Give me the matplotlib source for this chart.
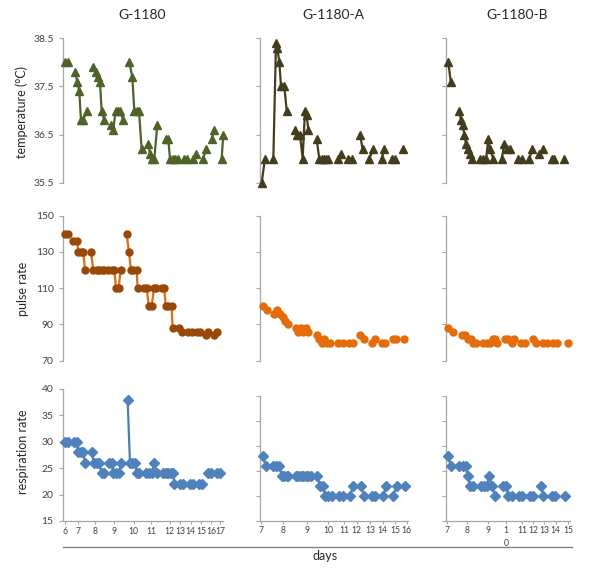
import numpy as np
import matplotlib
matplotlib.use("Agg")
import matplotlib.pyplot as plt
from matplotlib.lines import Line2D

N = None

# ---------------- data ----------------
# x = observation time index (axis units), None = gap between days
g1180_temp_x = [3, 13, N, 33, 40, 46, 51, 58, 68, N, 88, 96, 101, 108, 113, 121, N,
                141, 148, 155, 161, 168, 178, N, 196, 205, 211, 218, 225, 233, N,
                253, 258, 265, 271, 280, N, 305, 313, 318, 326, 333, 343, N, 361, 368, N,
                386, 396, N, 418, 425, N, 443, 451, N, 473, 478]
g1180_temp_y = [38.0, 38.0, N, 37.8, 37.6, 37.4, 36.8, 36.8, 37.0, N, 37.9, 37.8, 37.7, 37.6, 37.0, 36.8, N,
                36.7, 36.6, 37.0, 37.0, 37.0, 36.8, N, 38.0, 37.7, 37.0, 37.0, 37.0, 36.2, N,
                36.3, 36.1, 36.0, 36.0, 36.7, N, 36.4, 36.4, 36.0, 36.0, 36.0, 36.0, N, 36.0, 36.0, N,
                36.0, 36.1, N, 36.0, 36.2, N, 36.4, 36.6, N, 36.0, 36.5]

g1180_pulse_x = [3, 13, N, 28, 40, 43, 50, 58, 63, N, 81, 88, 98, 105, 113, 120, N,
                 133, 143, 151, 156, 164, 170, N, 188, 195, 201, 208, 218, 221, N,
                 240, 248, 255, 263, 270, 276, N, 293, 301, 305, 313, 323, 326, N,
                 345, 353, N, 373, 383, N, 398, 408, N, 425, 433, N, 451, 460]
g1180_pulse_y = [140, 140, N, 136, 136, 130, 130, 130, 120, N, 130, 120, 120, 120, 120, 120, N,
                 120, 120, 120, 110, 110, 120, N, 140, 130, 120, 120, 120, 110, N,
                 110, 110, 100, 100, 110, 110, N, 110, 110, 100, 100, 100, 88, N,
                 88, 86, N, 86, 86, N, 86, 86, N, 84, 86, N, 84, 86]

g1180_resp_x = [3, 13, N, 30, 38, 41, 50, 58, 63, N, 83, 90, 98, 105, 113, 121, N,
                136, 143, 148, 156, 165, 171, N, 191, 198, 205, 213, 218, 226, N,
                246, 255, 263, 271, 278, N, 298, 306, 313, 321, 328, 331, N,
                348, 358, N, 378, 386, N, 406, 413, N, 433, 441, N, 458, 468]
g1180_resp_y = [30, 30, N, 30, 30, 28, 28, 28, 26, N, 28, 26, 26, 26, 24, 24, N,
                26, 26, 24, 24, 24, 26, N, 38, 26, 26, 26, 24, 24, N,
                24, 24, 24, 26, 24, N, 24, 24, 24, 24, 24, 22, N,
                22, 22, N, 22, 22, N, 22, 22, N, 24, 24, N, 24, 24]

a_temp_x = [5, 15, N, 40, 48, 52, 58, 63, 73, 80, N, 105, 112, 120, 128, 135, 140, 145, N,
            170, 178, 185, 192, 198, 205, N, 235, 242, N, 265, 275, N, 300, 308, N,
            328, 340, N, 365, 373, N, 395, 405, N, 430]
a_temp_y = [35.5, 36.0, N, 36.0, 38.4, 38.3, 38.0, 37.5, 37.5, 37.0, N, 36.6, 36.5, 36.5, 36.0, 37.0, 36.9, 36.6, N,
            36.4, 36.0, 36.0, 36.0, 36.0, 36.0, N, 36.0, 36.1, N, 36.0, 36.0, N, 36.5, 36.2, N,
            36.0, 36.2, N, 36.0, 36.2, N, 36.0, 36.0, N, 36.2]

a_pulse_x = [8, 20, N, 43, 52, 60, 68, 75, 83, N, 108, 115, 122, 130, 138, 145, N,
             170, 178, 185, 193, 200, 210, N, 235, 248, N, 268, 280, N, 300, 312, N,
             335, 345, N, 365, 375, N, 398, 408, N, 432]
a_pulse_y = [100, 98, N, 96, 98, 96, 94, 92, 90, N, 88, 86, 88, 86, 88, 86, N,
             84, 82, 80, 82, 80, 80, N, 80, 80, N, 80, 80, N, 84, 82, N,
             80, 82, N, 80, 80, N, 82, 82, N, 82]

a_resp_x = [8, 17, N, 40, 48, 58, 65, 73, 80, 85, N, 108, 115, 122, 130, 137, 145, 152, N,
            172, 180, 190, 195, 203, 215, N, 238, 248, N, 270, 280, N, 302, 312, N,
            335, 345, N, 370, 378, N, 400, 410, N, 435]
a_resp_y = [28, 26, N, 26, 26, 26, 24, 24, 24, 24, N, 24, 24, 24, 24, 24, 24, 24, N,
            24, 22, 22, 20, 20, 20, N, 20, 20, N, 20, 22, N, 22, 20, N,
            20, 20, N, 20, 22, N, 20, 22, N, 22]

b_temp_x = [8, 15, N, 41, 46, 51, 56, 61, 68, 73, 78, N, 103, 113, 121, 128, 133, 143, N,
            168, 176, 183, 193, N, 218, 228, N, 251, 260, N, 281, 291, N, 318, 326, N, 356]
b_temp_y = [38.0, 37.6, N, 37.0, 36.8, 36.7, 36.5, 36.3, 36.2, 36.1, 36.0, N, 36.0, 36.0, 36.0, 36.4, 36.2, 36.0, N,
            36.0, 36.3, 36.2, 36.2, N, 36.0, 36.0, N, 36.0, 36.2, N, 36.1, 36.2, N, 36.0, 36.0, N, 36.0]

b_pulse_x = [8, 23, N, 48, 58, 68, 76, 83, 91, N, 113, 123, 133, 141, 148, 155, N,
             178, 188, 198, 205, N, 225, 238, N, 261, 271, N, 293, 303, N, 323, 333, N, 368]
b_pulse_y = [88, 86, N, 84, 84, 82, 82, 80, 80, N, 80, 80, 80, 82, 82, 80, N,
             82, 82, 80, 82, N, 80, 80, N, 82, 80, N, 80, 80, N, 80, 80, N, 80]

b_resp_x = [8, 15, N, 41, 51, 60, 66, 73, 81, N, 106, 115, 123, 131, 138, 148, N,
            173, 181, 188, 198, N, 220, 230, N, 253, 263, N, 286, 293, N, 318, 328, N, 358]
b_resp_y = [28, 26, N, 26, 26, 26, 24, 22, 22, N, 22, 22, 22, 24, 22, 20, N,
            22, 22, 20, 20, N, 20, 20, N, 20, 20, N, 22, 20, N, 20, 20, N, 20]

titles = ["G-1180", "G-1180-A", "G-1180-B"]
row_labels = ["temperature (\u00b0C)", "pulse rate", "respiration rate"]

temp_ticks = [35.5, 36.5, 37.5, 38.5]
pulse_ticks = [70, 90, 110, 130, 150]
resp_ticks = [15, 20, 25, 30, 35, 40]

g1180_day_pos = [3, 43, 93, 151, 209, 261, 317, 348, 380, 411, 442, 469]
g1180_day_lab = ["6", "7", "8", "9", "10", "11", "12", "13", "14", "15", "16", "17"]
a_day_pos = [2, 68, 142, 205, 252, 290, 330, 368, 405, 440]
a_day_lab = ["7", "8", "9", "10", "11", "12", "13", "14", "15", "16"]
b_day_pos = [3, 63, 128, 181, 230, 263, 296, 330, 368]
b_day_lab = ["7", "8", "9", "1\n0", "11", "12", "13", "14", "15"]

# ---------------- styling ----------------
plt.rcParams['font.family'] = ['Lato', 'DejaVu Sans']
W, H = 600, 568
fig = plt.figure(figsize=(W / 100, H / 100), dpi=100)

spine_c = "#a6a6a6"
tick_txt = "#404040"

col_left = [63.3, 260.0, 445.7]
col_width = [160.0, 148.3, 124.3]
col_xlim = [(-2, 478), (0, 445), (0, 373)]
row_box = [[(38.3, 182.7)] * 3, [(215.7, 360.7)] * 3,
           [(389.0, 521.0), (395.7, 520.7), (395.7, 520.7)]]
row_ylim = [(35.5, 38.5), (70, 150), (15, 40)]
row_ticks = [temp_ticks, pulse_ticks, resp_ticks]
row_ticklab = [["35.5", "36.5", "37.5", "38.5"], None, None]

series = [
    [(g1180_temp_x, g1180_temp_y), (a_temp_x, a_temp_y), (b_temp_x, b_temp_y)],
    [(g1180_pulse_x, g1180_pulse_y), (a_pulse_x, a_pulse_y), (b_pulse_x, b_pulse_y)],
    [(g1180_resp_x, g1180_resp_y), (a_resp_x, a_resp_y), (b_resp_x, b_resp_y)],
]
day_pos = [g1180_day_pos, a_day_pos, b_day_pos]
day_lab = [g1180_day_lab, a_day_lab, b_day_lab]

styles = [
    [dict(marker='^', ms=5.5, color="#4f6228", mfc="#4f6228", mec="#4f6228"),
     dict(marker='^', ms=5.5, color="#433d1c", mfc="#433d1c", mec="#433d1c"),
     dict(marker='^', ms=5.5, color="#433d1c", mfc="#433d1c", mec="#433d1c")],
    [dict(marker='o', ms=5.0, color="#e46c0a", mfc="#984807", mec="#984807"),
     dict(marker='o', ms=5.0, color="#e46c0a", mfc="#e46c0a", mec="#e46c0a"),
     dict(marker='o', ms=5.0, color="#e46c0a", mfc="#e46c0a", mec="#e46c0a")],
    [dict(marker='D', ms=5.0, color="#4a7ebb", mfc="#4f81bd", mec="#4f81bd"),
     dict(marker='D', ms=5.0, color="#4a7ebb", mfc="#4f81bd", mec="#4f81bd"),
     dict(marker='D', ms=5.0, color="#4a7ebb", mfc="#4f81bd", mec="#4f81bd")],
]

for r in range(3):
    for c in range(3):
        top, bot = row_box[r][c]
        ax = fig.add_axes([col_left[c] / W, 1 - bot / H, col_width[c] / W, (bot - top) / H])
        x = np.array(series[r][c][0], dtype=float)
        y = np.array(series[r][c][1], dtype=float)
        ax.plot(x, y, lw=1.6, clip_on=False, zorder=3, **styles[r][c])
        ax.set_xlim(*col_xlim[c])
        ax.set_ylim(*row_ylim[r])
        for s in ["top", "right"]:
            ax.spines[s].set_visible(False)
        ax.spines["left"].set_color(spine_c)
        ax.spines["left"].set_linewidth(0.9)
        ax.set_yticks(row_ticks[r])
        if c == 0:
            if row_ticklab[r]:
                ax.set_yticklabels(row_ticklab[r])
        else:
            ax.set_yticklabels([])
        ax.tick_params(axis='y', direction='out', length=3, width=0.8, color=spine_c,
                       labelsize=7.5, labelcolor=tick_txt, pad=4)
        if r < 2:
            ax.spines["bottom"].set_visible(False)
            ax.set_xticks([])
        else:
            ax.spines["bottom"].set_color(spine_c)
            ax.spines["bottom"].set_linewidth(0.9)
            ax.set_xticks(day_pos[c])
            ax.set_xticklabels(day_lab[c], linespacing=1.6)
            ax.tick_params(axis='x', direction='out', length=2.5, width=0.8, color=spine_c,
                           labelsize=6.2, labelcolor=tick_txt, pad=1.5)
        ax.patch.set_alpha(0)

# titles
title_x = [141.7, 333.7, 516.7]
for t, tx in zip(titles, title_x):
    fig.text(tx / W, 1 - 15 / H, t, ha='center', va='center', fontsize=10, color="#262626")

# row labels
lab_pos = [(21.7, 112), (23.3, 289), (22.7, 452)]
for lab, (lx, ly) in zip(row_labels, lab_pos):
    fig.text(lx / W, 1 - ly / H, lab, rotation=90, ha='center', va='center',
             fontsize=9, color="#262626")

# common x-axis title with rule
fig.add_artist(Line2D([63 / W, 572 / W], [1 - 546.7 / H, 1 - 546.7 / H],
                      color="#808080", lw=1.0))
fig.text(325 / W, 1 - 555.7 / H, "days", ha='center', va='center', fontsize=9, color="#262626")

fig.savefig("out.png", dpi=100)
